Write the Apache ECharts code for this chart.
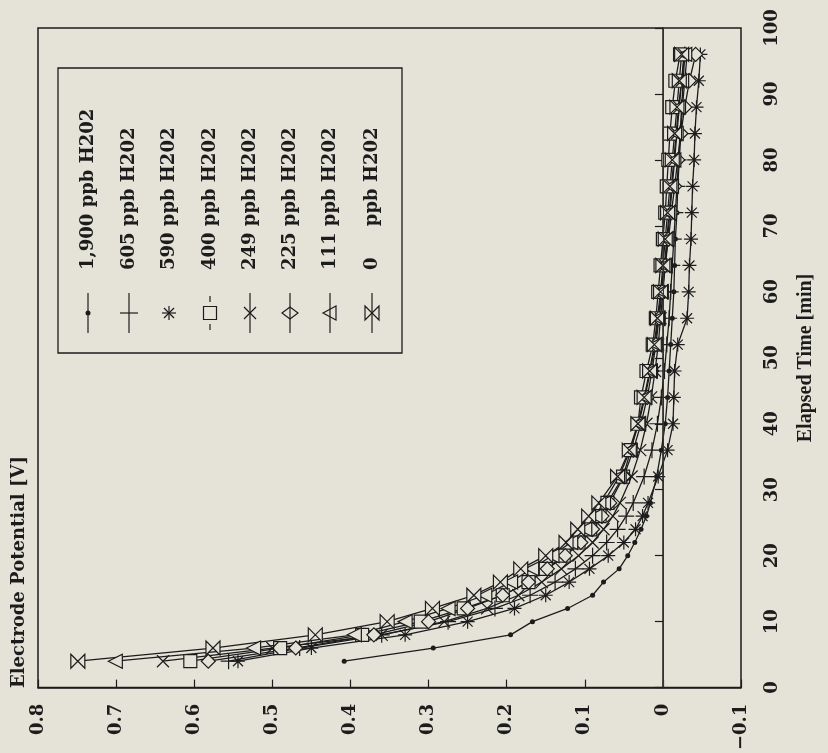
<!DOCTYPE html>
<html><head><meta charset="utf-8">
<script src="https://cdn.jsdelivr.net/npm/echarts@6/dist/echarts.min.js"></script>
<style>html,body{margin:0;padding:0;background:#e5e3d8}#c{width:828px;height:753px}</style>
</head><body><div id="c"></div>
<script>
// Elapsed time [min] of each reading
const times = [4,6,8,10,12,14,16,18,20,22,24,26,28,32,36,40,44,48,52,56,60,64,68,72,76,80,84,88,92,96];
// Electrode potential [V] per H2O2 concentration
const v1900 = [0.408,0.294,0.195,0.167,0.122,0.090,0.076,0.056,0.045,0.036,0.028,0.021,0.016,0.008,0.002,-0.003,-0.006,-0.008,-0.010,-0.012,-0.014,-0.015,-0.016,-0.018,-0.019,-0.021,-0.023,-0.025,-0.028,-0.031];
const v605  = [0.556,0.465,0.360,0.275,0.215,0.170,0.138,0.112,0.090,0.072,0.058,0.047,0.038,0.024,0.014,0.007,0.002,-0.002,-0.005,-0.008,-0.010,-0.012,-0.014,-0.016,-0.018,-0.020,-0.022,-0.024,-0.026,-0.028];
const v590  = [0.544,0.450,0.330,0.250,0.190,0.150,0.120,0.094,0.070,0.050,0.035,0.026,0.019,0.006,-0.006,-0.013,-0.014,-0.015,-0.019,-0.031,-0.033,-0.034,-0.036,-0.037,-0.038,-0.040,-0.041,-0.043,-0.046,-0.048];
const v400  = [0.605,0.490,0.385,0.310,0.255,0.205,0.172,0.150,0.127,0.108,0.093,0.081,0.071,0.051,0.041,0.032,0.028,0.021,0.013,0.009,0.006,0.003,0.000,-0.003,-0.005,-0.007,-0.009,-0.012,-0.016,-0.022];
const v249  = [0.640,0.500,0.360,0.280,0.225,0.185,0.155,0.130,0.108,0.090,0.076,0.064,0.055,0.040,0.029,0.021,0.015,0.010,0.006,0.003,0.000,-0.003,-0.006,-0.009,-0.012,-0.015,-0.018,-0.021,-0.024,-0.027];
const v225  = [0.582,0.470,0.370,0.300,0.250,0.205,0.172,0.148,0.125,0.105,0.090,0.078,0.068,0.050,0.038,0.028,0.020,0.014,0.009,0.005,0.001,-0.003,-0.007,-0.011,-0.015,-0.019,-0.023,-0.028,-0.034,-0.042];
const v111  = [0.701,0.524,0.395,0.330,0.275,0.228,0.195,0.168,0.142,0.118,0.100,0.087,0.076,0.056,0.042,0.031,0.023,0.016,0.010,0.006,0.002,-0.002,-0.005,-0.008,-0.011,-0.014,-0.017,-0.020,-0.024,-0.028];
const v0    = [0.749,0.576,0.445,0.353,0.295,0.242,0.208,0.182,0.150,0.124,0.109,0.095,0.082,0.058,0.043,0.032,0.024,0.017,0.011,0.007,0.003,0.000,-0.003,-0.006,-0.009,-0.012,-0.015,-0.018,-0.021,-0.024];

const seriesNames = ['1,900 ppb H202','605 ppb H202','590 ppb H202','400 ppb H202','249 ppb H202','225 ppb H202','111 ppb H202','0     ppb H202'];
const potentialTicks = [0.8,0.7,0.6,0.5,0.4,0.3,0.2,0.1,0,-0.1];
const potentialTickLabels = ['0.8','0.7','0.6','0.5','0.4','0.3','0.2','0.1','0','\u22120.1'];
const timeTickLabels = ['0','10','20','30','40','50','60','70','80','90','100'];

const BG = '#e5e3d8', INK = '#1c1c1c';
const FONT = 'DejaVu Serif';
const SYM = {
  plus: 'path://M7,0L7,14M0,7L14,7',
  star: 'path://M7,0L7,14M0,7L14,7M2,2L12,12M2,12L12,2',
  cross: 'path://M0,0L14,14M0,14L14,0',
  bowtie: 'path://M0,0L14,14L14,0L0,14Z',
  triLeft: 'path://M0,7L14,0L14,14Z'
};

function mk(name, vals, symbol, size, hollow, extra) {
  const s = {
    type: 'line', name: name,
    data: times.map((t, i) => [vals[i], t]),
    symbol: symbol, symbolSize: size, showAllSymbol: true,
    lineStyle: { color: INK, width: 1.3 },
    itemStyle: { color: hollow ? BG : INK, borderColor: INK, borderWidth: hollow === null ? 0 : 1.2 },
    emphasis: { disabled: true }, silent: true
  };
  return Object.assign(s, extra || {});
}

const series = [
  mk(seriesNames[0], v1900, 'circle', 5, null, {
    markLine: { silent: true, symbol: 'none', label: { show: false },
      lineStyle: { color: '#333', width: 1, type: 'solid' }, data: [{ xAxis: 0 }] }
  }),
  mk(seriesNames[1], v605, SYM.plus, 16, false),
  mk(seriesNames[2], v590, SYM.star, 14, false),
  mk(seriesNames[3], v400, 'rect', 13, true),
  mk(seriesNames[4], v249, SYM.cross, 12, false),
  mk(seriesNames[5], v225, 'diamond', 14, true),
  mk(seriesNames[6], v111, SYM.triLeft, 14, true),
  mk(seriesNames[7], v0, SYM.bowtie, 14, true)
];

// legend drawn as rotated graphic (the whole figure is turned 90 degrees)
const legX = [88,129,169,210,250,290,330,372];
const legKinds = ['dot','plus','star','square','cross','diamond','tri','bowtie'];
const G = [];
const ls = { stroke: INK, lineWidth: 1.2 };
G.push({ type: 'rect', shape: { x: 58, y: 68, width: 344, height: 285 }, style: { fill: 'none', stroke: INK, lineWidth: 1.3 } });
legKinds.forEach((k, i) => {
  const cx = legX[i], cy = 313;
  if (k === 'square') {
    G.push({ type: 'line', shape: { x1: cx, y1: 296, x2: cx, y2: 302 }, style: ls });
    G.push({ type: 'line', shape: { x1: cx, y1: 324, x2: cx, y2: 330 }, style: ls });
  } else if (k !== 'star') {
    G.push({ type: 'line', shape: { x1: cx, y1: 293, x2: cx, y2: 333 }, style: ls });
  }
  if (k === 'dot') G.push({ type: 'circle', shape: { cx: cx, cy: cy, r: 2.5 }, style: { fill: INK } });
  if (k === 'plus') G.push({ type: 'line', shape: { x1: cx - 9, y1: cy, x2: cx + 9, y2: cy }, style: ls });
  if (k === 'star') {
    [[0,-7,0,7],[-7,0,7,0],[-5,-5,5,5],[-5,5,5,-5]].forEach(a => G.push({ type: 'line', shape: { x1: cx + a[0], y1: cy + a[1], x2: cx + a[2], y2: cy + a[3] }, style: ls }));
  }
  if (k === 'square') G.push({ type: 'rect', shape: { x: cx - 6.5, y: cy - 6.5, width: 13, height: 13 }, style: { fill: BG, stroke: INK, lineWidth: 1.2 } });
  if (k === 'cross') {
    G.push({ type: 'line', shape: { x1: cx - 6, y1: cy - 6, x2: cx + 6, y2: cy + 6 }, style: ls });
    G.push({ type: 'line', shape: { x1: cx - 6, y1: cy + 6, x2: cx + 6, y2: cy - 6 }, style: ls });
  }
  if (k === 'diamond') G.push({ type: 'polygon', shape: { points: [[cx - 8, cy], [cx, cy - 6], [cx + 8, cy], [cx, cy + 6]] }, style: { fill: 'none', stroke: INK, lineWidth: 1.2 } });
  if (k === 'tri') G.push({ type: 'polygon', shape: { points: [[cx - 7, cy], [cx + 6, cy - 7], [cx + 6, cy + 7]] }, style: { fill: 'none', stroke: INK, lineWidth: 1.2 } });
  if (k === 'bowtie') G.push({ type: 'polygon', shape: { points: [[cx - 7, cy - 7], [cx + 7, cy + 7], [cx + 7, cy - 7], [cx - 7, cy + 7]] }, style: { fill: 'none', stroke: INK, lineWidth: 1.2 } });
  G.push({ type: 'text', x: cx, y: 270, rotation: Math.PI / 2,
    style: { text: seriesNames[i], font: 'bold 18px "' + FONT + '"', fill: INK, textAlign: 'left', textVerticalAlign: 'middle' } });
});
G.push({ type: 'text', x: 19, y: 688, rotation: Math.PI / 2,
  style: { text: 'Electrode Potential [V]', font: 'bold 18px "' + FONT + '"', fill: INK, textAlign: 'left', textVerticalAlign: 'middle' } });
G.push({ type: 'text', x: 806, y: 358, rotation: Math.PI / 2,
  style: { text: 'Elapsed Time [min]', font: 'bold 20px "Liberation Serif"', fill: INK, textAlign: 'center', textVerticalAlign: 'middle' } });

const chart = echarts.init(document.getElementById('c'), null, { renderer: 'canvas' });
chart.setOption({
  backgroundColor: BG,
  animation: false,
  grid: { left: 38, right: 87, top: 28, bottom: 65, show: true, borderColor: INK, borderWidth: 1.5, backgroundColor: 'transparent' },
  xAxis: {
    type: 'value', min: -0.1, max: 0.8, interval: 0.1, inverse: true, position: 'bottom',
    axisLine: { show: true, lineStyle: { color: INK, width: 1.5 } },
    axisTick: { show: true, inside: true, length: 8, lineStyle: { color: INK, width: 1.2 } },
    splitLine: { show: false },
    axisLabel: { rotate: 90, margin: 16, color: INK, fontFamily: FONT, fontWeight: 'bold', fontSize: 18,
      formatter: v => { const i = potentialTicks.findIndex(p => Math.abs(p - v) < 1e-6); return i >= 0 ? potentialTickLabels[i] : ''; } }
  },
  yAxis: {
    type: 'value', min: 0, max: 100, interval: 10, position: 'right',
    axisLine: { show: true, lineStyle: { color: INK, width: 1.5 } },
    axisTick: { show: true, inside: true, length: 8, lineStyle: { color: INK, width: 1.2 } },
    splitLine: { show: false },
    axisLabel: { rotate: 90, margin: 22, color: INK, fontFamily: FONT, fontWeight: 'bold', fontSize: 18,
      formatter: v => { const i = Math.round(v / 10); return timeTickLabels[i] || ''; } }
  },
  series: series,
  graphic: G
});
</script></body></html>
